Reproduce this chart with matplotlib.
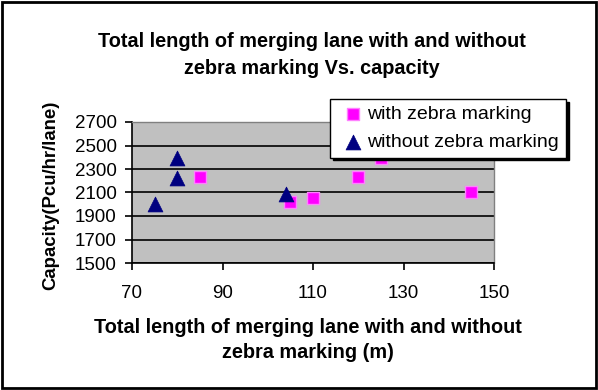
import matplotlib
matplotlib.use("Agg")
import matplotlib.pyplot as plt
from matplotlib.patches import Rectangle

plt.rcParams['font.family'] = ['Liberation Sans', 'DejaVu Sans']

# total merging lane length (m) vs capacity (pcu/hr/lane)
with_len = [85, 105, 110, 120, 125, 145]
with_cap = [2235, 2020, 2050, 2230, 2390, 2100]
without_len = [75, 80, 80, 104]
without_cap = [2000, 2390, 2220, 2085]

xticks = [70, 90, 110, 130, 150]
yticks = [1500, 1700, 1900, 2100, 2300, 2500, 2700]

W, H = 598, 390
fig = plt.figure(figsize=(W / 100, H / 100), dpi=100)
ax = fig.add_axes([132 / W, 1 - 263 / H, (494 - 132) / W, (263 - 122) / H])
ax.set_facecolor('#C0C0C0')

ax.scatter(with_len, with_cap, marker='s', s=75, c='#FF00FF',
           edgecolors='#FF80FF', linewidths=1.0, label='with zebra marking', zorder=3)
ax.scatter(without_len, without_cap, marker='^', s=115, c='#000080',
           edgecolors='#000080', linewidths=0.5, label='without zebra marking', zorder=3)

ax.set_xlim(70, 150)
ax.set_ylim(1500, 2700)
ax.set_xticks(xticks)
ax.set_yticks(yticks)
ax.yaxis.grid(True, color='black', linewidth=1.2)
ax.set_axisbelow(True)
ax.tick_params(labelsize=13.5, length=5, width=1.2, direction='out')
ax.tick_params(axis='x', pad=11)
ax.tick_params(axis='y', pad=6)

for s in ['left', 'bottom']:
    ax.spines[s].set_color('black')
    ax.spines[s].set_linewidth(1.2)
for s in ['top', 'right']:
    ax.spines[s].set_color('#808080')
    ax.spines[s].set_linewidth(1.0)

fig.text(312 / W, 1 - 55 / H, 'Total length of merging lane with and without\nzebra marking Vs. capacity',
         ha='center', va='center', fontsize=14.3, fontweight='bold', linespacing=1.5)
fig.text(308 / W, 1 - 340 / H, 'Total length of merging lane with and without\nzebra marking (m)',
         ha='center', va='center', fontsize=14.3, fontweight='bold', linespacing=1.45)
fig.text(51 / W, 1 - 195 / H, 'Capacity(Pcu/hr/lane)', rotation=90,
         ha='center', va='center', fontsize=13.4, fontweight='bold')

leg = fig.legend(loc='upper left', bbox_to_anchor=(330 / W, 1 - 99 / H),
                 fontsize=14, frameon=True, fancybox=False,
                 shadow={'color': 'black', 'alpha': 1},
                 borderaxespad=0, handletextpad=-0.1, borderpad=0.35,
                 labelspacing=0.5, handlelength=1.67, markerscale=1.0)
leg.get_frame().set_edgecolor('black')
leg.get_frame().set_linewidth(1.0)

fig.patches.append(Rectangle((0.003, 0.004), 0.994, 0.992, transform=fig.transFigure,
                             fill=False, edgecolor='black', linewidth=2))

fig.savefig('out.png', dpi=100)
